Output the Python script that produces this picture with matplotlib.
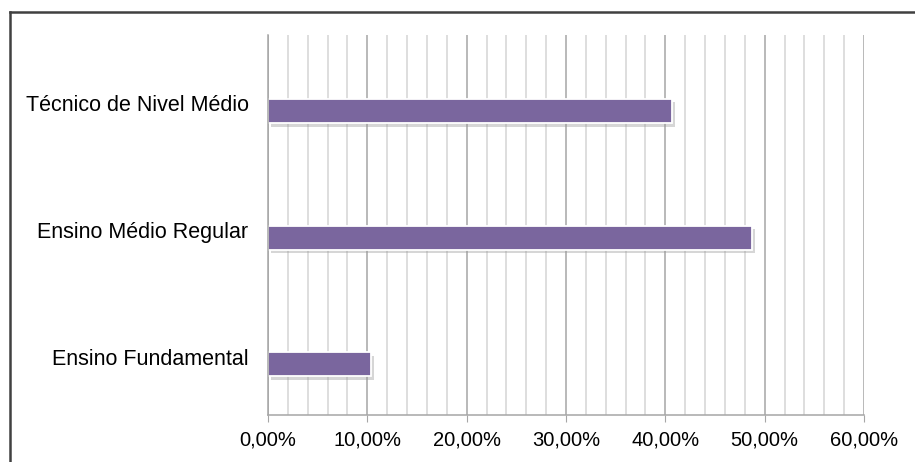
import matplotlib.pyplot as plt
import matplotlib.patheffects as pe
from matplotlib.lines import Line2D
from matplotlib.ticker import MultipleLocator, FuncFormatter
import numpy as np

plt.rcParams['font.family'] = ['Liberation Sans', 'DejaVu Sans']

# escolaridade (fração do total)
categorias = ['Ensino Fundamental', 'Ensino Médio Regular', 'Técnico de Nivel Médio']
valores = [0.104, 0.487, 0.407]

W, H = 915, 462
fig = plt.figure(figsize=(W / 100, H / 100), dpi=100)
fig.patch.set_facecolor('white')

# moldura externa (só topo e esquerda aparecem)
fig.add_artist(Line2D([9.5 / W, 9.5 / W], [0, 1 - 11.5 / H], color='#404040', lw=1.8))
fig.add_artist(Line2D([9.5 / W, 1], [1 - 11.5 / H, 1 - 11.5 / H], color='#404040', lw=1.8))

ax = fig.add_axes([268 / W, 47 / H, (864 - 268) / W, (415 - 35) / H])

ax.set_xlim(0, 0.6)
ax.set_ylim(-0.5, 2.5)

ax.xaxis.set_major_locator(MultipleLocator(0.1))
ax.xaxis.set_minor_locator(MultipleLocator(0.02))
ax.grid(which='minor', axis='x', color='#D4D4D4', lw=1.1)
ax.grid(which='major', axis='x', color='#A6A6A6', lw=1.1)
ax.set_axisbelow(True)

pos = np.arange(len(categorias))
# barras ficam um pouco abaixo do centro de cada faixa
ax.barh(pos - 0.1, valores, height=0.19, color='#7A669E',
        edgecolor='white', linewidth=1.3,
        path_effects=[pe.SimplePatchShadow(offset=(2, -2.5), shadow_rgbFace='#999999', alpha=0.4),
                      pe.Normal()])

ax.set_yticks(pos - 0.04)
ax.set_yticklabels(categorias, fontsize=15.5)
ax.tick_params(axis='y', length=0, pad=14)
ax.xaxis.set_major_formatter(FuncFormatter(lambda v, _: f'{v * 100:.2f}%'.replace('.', ',')))
ax.tick_params(axis='x', which='major', length=5, color='#A6A6A6', labelsize=14.5, pad=6)
ax.tick_params(axis='x', which='minor', length=0)

for s in ['top', 'right']:
    ax.spines[s].set_visible(False)
for s in ['left', 'bottom']:
    ax.spines[s].set_color('#A6A6A6')
    ax.spines[s].set_linewidth(1.1)

fig.savefig('out.png', dpi=100)
